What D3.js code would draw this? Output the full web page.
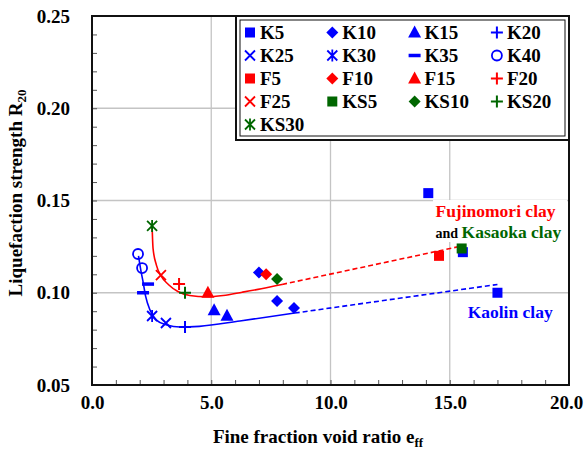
<!DOCTYPE html>
<html>
<head>
<meta charset="utf-8">
<script src="https://cdn.jsdelivr.net/npm/d3@7"></script>
<style>
  body { margin: 0; background: #fff; }
  svg { display: block; font-family: "Liberation Serif", "Times New Roman", Times, "DejaVu Serif", serif; font-weight: bold; }
</style>
</head>
<body>
<div id="chart"></div>
<script>
// Values: [e_ff, R20]
var K5 = [[14.1, 0.154], [15.55, 0.122], [17.0, 0.100]];
var K10 = [[7.0, 0.111], [7.76, 0.0955], [8.47, 0.0917]];
var K15 = [[5.12, 0.0905], [5.66, 0.0875]];
var K20 = [[3.9, 0.0814]];
var K25 = [[3.1, 0.0836]];
var K30 = [[2.52, 0.0874]];
var K35 = [[2.35, 0.1047], [2.14, 0.100]];
var K40 = [[1.93, 0.121], [2.1, 0.1134]];
var F5 = [[14.55, 0.120]];
var F10 = [[7.3, 0.110]];
var F15 = [[4.86, 0.100]];
var F20 = [[3.65, 0.1047]];
var F25 = [[2.89, 0.1096]];
var KS5 = [[15.5, 0.124]];
var KS10 = [[7.76, 0.1075]];
var KS20 = [[3.9, 0.100]];
var KS30 = [[2.52, 0.1362]];

var seriesNames = ["K5", "K10", "K15", "K20", "K25", "K30", "K35", "K40",
  "F5", "F10", "F15", "F20", "F25", "KS5", "KS10", "KS20", "KS30"];
var seriesValues = [K5, K10, K15, K20, K25, K30, K35, K40,
  F5, F10, F15, F20, F25, KS5, KS10, KS20, KS30];

// trend curves (solid part then dashed extension)
var kaolinSolid = [[1.95, 0.120], [2.05, 0.112], [2.14, 0.106], [2.25, 0.098], [2.43, 0.0907],
  [2.7, 0.0852], [3.14, 0.0825], [3.69, 0.0814], [4.5, 0.0818], [6.2, 0.0847], [8.5, 0.0890]];
var kaolinDashed = [[8.5, 0.0890], [17.0, 0.1045]];
var fujiSolid = [[2.52, 0.1362], [2.56, 0.124], [2.7, 0.115], [2.9, 0.109], [3.2, 0.1045],
  [3.6, 0.1007], [4.1, 0.0985], [4.8, 0.0978], [5.5, 0.0985], [6.3, 0.1003], [7.1, 0.1022], [7.97, 0.1045]];
var fujiDashed = [[7.97, 0.1045], [15.56, 0.1255]];

var xTicks = [0, 5, 10, 15, 20];
var yTicks = [0.05, 0.10, 0.15, 0.20, 0.25];

// marker style per series
var BLUE = "#0000ff", RED = "#ff0000", GREEN = "#006600";
var markerStyle = {
  K5: ["square", BLUE], K10: ["diamond", BLUE], K15: ["triangle", BLUE], K20: ["plus", BLUE],
  K25: ["cross", BLUE], K30: ["star", BLUE], K35: ["dash", BLUE], K40: ["circle", BLUE],
  F5: ["square", RED], F10: ["diamond", RED], F15: ["triangle", RED], F20: ["plus", RED],
  F25: ["cross", RED], KS5: ["square", GREEN], KS10: ["diamond", GREEN], KS20: ["plus", GREEN],
  KS30: ["star", GREEN]
};

var FONT = "'Liberation Serif', 'Times New Roman', Times, 'DejaVu Serif', serif";

var svgWidth = 584, svgHeight = 452;
var margin = { top: 16, right: 15, bottom: 67, left: 92 };
var width = svgWidth - margin.left - margin.right;
var height = svgHeight - margin.top - margin.bottom;

var svg = d3.select("#chart").append("svg")
  .attr("width", svgWidth)
  .attr("height", svgHeight);

svg.append("rect").attr("width", svgWidth).attr("height", svgHeight).attr("fill", "#fff");

var chartGroup = svg.append("g")
  .attr("transform", `translate(${margin.left}, ${margin.top})`);

var xScale = d3.scaleLinear().domain([0, 20]).range([0, width]);
var yScale = d3.scaleLinear().domain([0.05, 0.25]).range([height, 0]);

// grid
chartGroup.selectAll(".gx").data(xTicks.slice(1, -1)).enter().append("line")
  .attr("x1", d => xScale(d)).attr("x2", d => xScale(d))
  .attr("y1", 0).attr("y2", height)
  .attr("stroke", "#c4c4c4").attr("stroke-width", 1.3);
chartGroup.selectAll(".gy").data(yTicks.slice(1, -1)).enter().append("line")
  .attr("x1", 0).attr("x2", width)
  .attr("y1", d => yScale(d)).attr("y2", d => yScale(d))
  .attr("stroke", "#c4c4c4").attr("stroke-width", 1.3);

// white box behind the clay labels
chartGroup.append("rect")
  .attr("x", 341).attr("y", 184).attr("width", 134).attr("height", 42)
  .attr("fill", "#fff");

// axes with inward minor ticks
var xMinor = d3.range(0, 21);
var yMinor = d3.range(5, 26).map(d => d / 100);

var bottomAxis = d3.axisBottom(xScale)
  .tickValues(xMinor)
  .tickSizeInner(-5).tickSizeOuter(0).tickPadding(11)
  .tickFormat(d => xTicks.indexOf(d) >= 0 ? d.toFixed(1) : "");
var leftAxis = d3.axisLeft(yScale)
  .tickValues(yMinor)
  .tickSizeInner(-5).tickSizeOuter(0).tickPadding(22)
  .tickFormat(d => Math.round(d * 100) % 5 === 0 ? d.toFixed(2) : "");

var gx = chartGroup.append("g").attr("transform", `translate(0, ${height})`).call(bottomAxis);
var gy = chartGroup.append("g").call(leftAxis);
[gx, gy].forEach(function (g) {
  g.attr("font-family", FONT).attr("font-size", 19);
  g.select(".domain").remove();
  g.selectAll("line").attr("stroke", "#555").attr("stroke-width", 1);
  g.selectAll("text").attr("font-weight", "bold").attr("fill", "#000");
});
// keep the last x label inside the picture
gx.selectAll("text").filter(d => d === 20).attr("dx", -3);

// curves
var line = d3.line()
  .x(d => xScale(d[0]))
  .y(d => yScale(d[1]))
  .curve(d3.curveMonotoneX);

function drawCurve(pts, color, dashed) {
  chartGroup.append("path")
    .attr("d", line(pts))
    .attr("fill", "none")
    .attr("stroke", color)
    .attr("stroke-width", 1.6)
    .attr("stroke-dasharray", dashed ? "5,3" : null);
}
drawCurve(kaolinSolid, BLUE, false);
drawCurve(kaolinDashed, BLUE, true);
drawCurve(fujiSolid, RED, false);
drawCurve(fujiDashed, RED, true);

// marker drawing
function drawMarker(g, shape, color, x, y) {
  var s = 5;
  if (shape === "square") {
    g.append("rect").attr("x", x - s).attr("y", y - s).attr("width", 2 * s).attr("height", 2 * s)
      .attr("fill", color);
  } else if (shape === "diamond") {
    g.append("path").attr("d", `M${x},${y - 6}L${x + 6},${y}L${x},${y + 6}L${x - 6},${y}Z`)
      .attr("fill", color);
  } else if (shape === "triangle") {
    g.append("path").attr("d", `M${x},${y - 7}L${x + 6.5},${y + 5}L${x - 6.5},${y + 5}Z`)
      .attr("fill", color);
  } else if (shape === "plus") {
    g.append("path").attr("d", `M${x - 6},${y}H${x + 6}M${x},${y - 6}V${y + 6}`)
      .attr("stroke", color).attr("stroke-width", 2).attr("fill", "none");
  } else if (shape === "cross") {
    g.append("path").attr("d", `M${x - s},${y - s}L${x + s},${y + s}M${x - s},${y + s}L${x + s},${y - s}`)
      .attr("stroke", color).attr("stroke-width", 1.8).attr("fill", "none");
  } else if (shape === "star") {
    g.append("path").attr("d", `M${x - s},${y - s}L${x + s},${y + s}M${x - s},${y + s}L${x + s},${y - s}M${x},${y - 6}V${y + 6}`)
      .attr("stroke", color).attr("stroke-width", 1.8).attr("fill", "none");
  } else if (shape === "dash") {
    g.append("rect").attr("x", x - 6).attr("y", y - 1.75).attr("width", 12).attr("height", 3.5)
      .attr("fill", color);
  } else if (shape === "circle") {
    g.append("circle").attr("cx", x).attr("cy", y).attr("r", 5)
      .attr("fill", "none").attr("stroke", color).attr("stroke-width", 1.8);
  }
}

var pointsGroup = chartGroup.append("g");
seriesNames.forEach(function (name, i) {
  seriesValues[i].forEach(function (d) {
    drawMarker(pointsGroup, markerStyle[name][0], markerStyle[name][1], xScale(d[0]), yScale(d[1]));
  });
});

// plot frame
chartGroup.append("rect")
  .attr("width", width).attr("height", height)
  .attr("fill", "none").attr("stroke", "#111").attr("stroke-width", 2);

// legend
var legendX = 144, legendW = width - legendX, legendH = 124;
var legend = chartGroup.append("g").attr("transform", `translate(${legendX}, 0)`);
legend.append("rect").attr("width", legendW).attr("height", legendH)
  .attr("fill", "#fff").attr("stroke", "#111").attr("stroke-width", 2);
legend.append("rect").attr("x", 4).attr("y", 4).attr("width", legendW - 8).attr("height", legendH - 8)
  .attr("fill", "none").attr("stroke", "#111").attr("stroke-width", 1);

seriesNames.forEach(function (name, i) {
  var col = i % 4, row = Math.floor(i / 4);
  var mx = 14 + col * 82.3, my = 16.5 + row * 23;
  drawMarker(legend, markerStyle[name][0], markerStyle[name][1], mx, my);
  legend.append("text")
    .attr("x", mx + 10).attr("y", my + 6.5)
    .attr("font-family", FONT).attr("font-size", 19).attr("fill", "#000")
    .text(name);
});

// annotations
chartGroup.append("text")
  .attr("x", xScale(14.4)).attr("y", 201)
  .attr("font-family", FONT).attr("font-size", 17.5).attr("fill", RED)
  .text("Fujinomori clay");
var kas = chartGroup.append("text")
  .attr("x", xScale(14.4)).attr("y", 222)
  .attr("font-family", FONT).attr("fill", GREEN).attr("font-size", 17.5);
kas.append("tspan").attr("fill", "#000").attr("font-size", 14).text("and ");
kas.append("tspan").text("Kasaoka clay");
chartGroup.append("text")
  .attr("x", xScale(15.75)).attr("y", 302)
  .attr("font-family", FONT).attr("font-size", 17.5).attr("fill", BLUE)
  .text("Kaolin clay");

// axis titles
var xt = chartGroup.append("text")
  .attr("x", 226).attr("y", height + 58)
  .attr("text-anchor", "middle").attr("font-family", FONT).attr("font-size", 19).attr("fill", "#000");
xt.append("tspan").text("Fine fraction void ratio  e");
xt.append("tspan").attr("font-size", 13).attr("dy", 4).text("ff");

var yt = svg.append("text")
  .attr("transform", "translate(22, 193) rotate(-90)")
  .attr("text-anchor", "middle").attr("font-family", FONT).attr("font-size", 19).attr("fill", "#000");
yt.append("tspan").text("Liquefaction strength  R");
yt.append("tspan").attr("font-size", 13).attr("dy", 4).text("20");
</script>
</body>
</html>
